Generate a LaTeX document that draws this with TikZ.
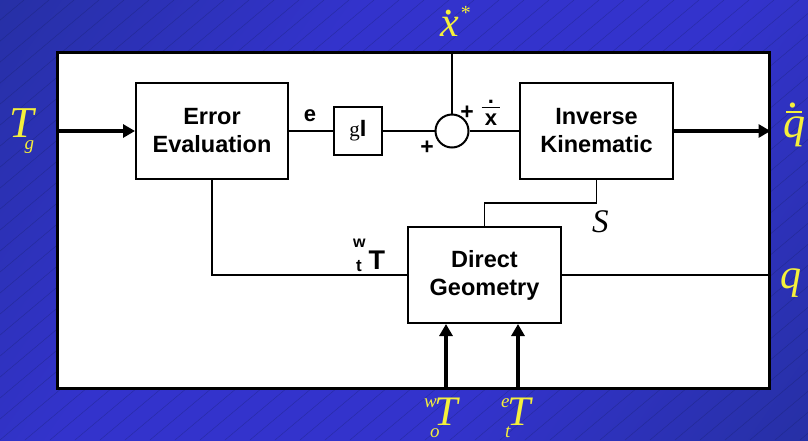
\documentclass[tikz,border=0pt]{standalone}
\usepackage{fontspec}
\setmainfont{Liberation Serif}
\setsansfont{Liberation Sans}
\usetikzlibrary{arrows.meta}
\definecolor{bgdark}{RGB}{30,46,140}
\definecolor{bgmid}{RGB}{51,51,204}
\definecolor{labyellow}{RGB}{245,240,60}
\pgfdeclarehorizontalshading{bgshade}{100bp}{color(0bp)=(bgdark); color(38bp)=(bgmid); color(62bp)=(bgmid); color(100bp)=(bgdark)}
% dot and bar above a letter: bar width, bar raise, dot raise, letter
\newcommand\dotbar[4]{\ooalign{#4\cr\hidewidth\raisebox{#2}{\rule{#1}{0.05em}}\hidewidth\cr\hidewidth\raisebox{#3}{.}\hidewidth\cr}}

\begin{document}
\begin{tikzpicture}[
            x=1pt,
            y=-1pt,
            blk/.style={draw, line width=2pt, fill=white, align=center, inner sep=0pt,
                font=\fontsize{23.5}{28}\selectfont\sffamily\bfseries},
            frame/.style={draw, line width=2.5pt, fill=white, inner sep=0pt},
            conn/.style={draw=black, line width=1.8pt},
            fat/.style={draw=black, line width=4.5pt, -{Triangle[length=12pt,width=13pt]}},
            ylab/.style={text=labyellow, inner sep=0pt, font=\fontsize{42}{42}\selectfont\itshape},
            blab/.style={inner sep=0pt, font=\fontsize{22}{22}\selectfont\sffamily\bfseries},
            sgn/.style={inner sep=0pt, font=\fontsize{23}{23}\selectfont\sffamily\bfseries}
        ]
        \useasboundingbox (0,0) rectangle (808,440);
        \shade[shading=bgshade, shading angle=-35] (0,0) rectangle (808,440);
        \begin{scope}
            \clip (0,0) rectangle (808,440);
            \foreach \k in {-22,...,34} {
                \draw[bgdark!60!black, opacity=0.3, line width=0.5pt] (\k*25,440) -- (\k*25+524,0);
            }
        \end{scope}
        % frame and blocks
        \node[frame, anchor=north west, minimum width=712pt, minimum height=336pt] (frame) at (56,51) {};
        \node[blk, minimum width=152pt, minimum height=96pt] (ee) at (212,131) {Error\\Evaluation};
        \node[blk, minimum width=48pt, minimum height=48pt] (gain) at (358,131) {{\rmfamily\mdseries\fontsize{21}{21}\selectfont g}I};
        \node[circle, draw, line width=2pt, fill=white, minimum size=33pt, inner sep=0pt] (sum) at (452,131) {};
        \node[blk, minimum width=153pt, minimum height=96pt] (ik) at (596.5,131) {Inverse\\Kinematic};
        \node[blk, minimum width=153pt, minimum height=96pt] (dg) at (484.5,275) {Direct\\Geometry};
        \coordinate (wo) at (446,387);
        \coordinate (et) at (518,387);
        % connectors
        \draw[fat] (frame.west |- ee.west) -- (ee.west);
        \draw[conn] (ee.east) -- (gain.west);
        \draw[conn] (gain.east) -- (sum.west);
        \draw[conn] (sum.east) -- (ik.west);
        \draw[conn] (sum.north |- frame.north) -- (sum.north);
        \draw[fat] (ik.east) -- (frame.east |- ik.east);
        \draw[conn] (ik.south) -- ++(0,23) -| (dg.north);
        \draw[conn] (ee.south) |- (dg.west);
        \draw[conn] (dg.east) -- (frame.east |- dg.east);
        \draw[fat] (wo) -- (wo |- dg.south);
        \draw[fat] (et) -- (et |- dg.south);
        % labels
        \node[blab] (elab) at (310,116) {e};
        \node[sgn] (plus1) at (467,113) {+};
        \node[sgn] (plus2) at (427,148) {+};
        \node[blab, anchor=base] (xdot) at (491,125) {\dotbar{0.85em}{0.77em}{1.0em}{x}};
        \node[blab, anchor=base west] (wtt) at (353,269) {\makebox[0pt][l]{\kern3pt\raisebox{-2pt}{\fontsize{17}{17}\selectfont t}}\raisebox{22pt}{\fontsize{16}{16}\selectfont w}\kern3pt{\fontsize{27}{27}\selectfont T}};
        \node[inner sep=0pt, font=\fontsize{33}{33}\selectfont\itshape, anchor=base west] (slab) at (592,232) {S};
        \node[ylab, anchor=base west, font=\fontsize{44}{44}\selectfont\itshape] (tg) at (9,137) {T\kern-9pt\raisebox{-12pt}{\fontsize{19}{19}\selectfont g}};
        \node[ylab, anchor=base west] (xstar) at (440,36) {\dotbar{0em}{0em}{0.52em}{x}\kern1pt\raisebox{0.4em}{\fontsize{20}{20}\selectfont *}};
        \node[ylab, anchor=base west, font=\fontsize{44}{44}\selectfont\itshape] (qdot) at (783,137) {\dotbar{0.36em}{0.55em}{0.68em}{q}};
        \node[ylab, anchor=base west] (qlab) at (780,288) {q};
        \node[ylab, anchor=base west] (wtlab) at (424,425) {\makebox[0pt][l]{\kern6pt\raisebox{-12pt}{\fontsize{19}{19}\selectfont o}}\raisebox{18pt}{\fontsize{19}{19}\selectfont w}\kern-2pt T};
        \node[ylab, anchor=base west] (etlab) at (501,425) {\makebox[0pt][l]{\kern4pt\raisebox{-12pt}{\fontsize{19}{19}\selectfont t}}\raisebox{18pt}{\fontsize{19}{19}\selectfont e}\kern-2pt T};
    \end{tikzpicture}
\end{document}
